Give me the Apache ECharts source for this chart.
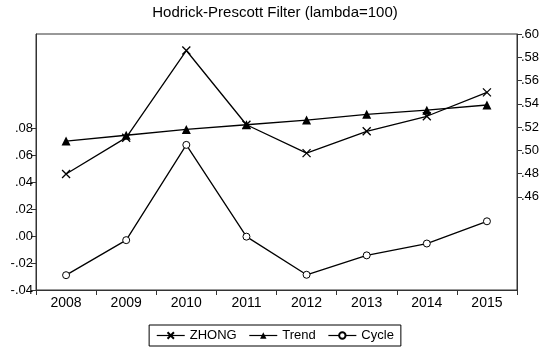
<!DOCTYPE html>
<html>
<head>
<meta charset="utf-8">
<script src="https://cdn.jsdelivr.net/npm/echarts@6/dist/echarts.min.js"></script>
<style>html,body{margin:0;padding:0;background:#fff}#c{width:550px;height:348px}</style>
</head>
<body>
<div id="c"></div>
<script>
var years = ['2008','2009','2010','2011','2012','2013','2014','2015'];
var zhong = [0.4797, 0.5109, 0.5858, 0.5220, 0.4976, 0.5164, 0.5293, 0.5498];
var trend = [0.5080, 0.5130, 0.5180, 0.5220, 0.5260, 0.5310, 0.5345, 0.5390];
var cycle = [-0.0290, -0.0030, 0.0677, -0.0004, -0.0287, -0.0143, -0.0055, 0.0110];
var leftTicks = [-0.04, -0.02, 0.00, 0.02, 0.04, 0.06, 0.08];
var rightTicks = [0.46, 0.48, 0.50, 0.52, 0.54, 0.56, 0.58, 0.60];
var titleText = 'Hodrick-Prescott Filter (lambda=100)';

function fmt(v){ return v.toFixed(2).replace('0.', '.'); }
var FONT = 'Liberation Sans, Arial, sans-serif';
var AX = '#333';

var chart = echarts.init(document.getElementById('c'), null, {renderer:'canvas'});
chart.setOption({
  animation: false,
  backgroundColor: '#fff',
  title: {text: titleText, left: 'center', top: 0,
    textStyle: {fontFamily: FONT, fontSize: 15, fontWeight: 'normal', color: '#000'}},
  grid: {left: 36, right: 33, top: 34, bottom: 58, show: true, borderColor: AX, borderWidth: 1},
  legend: {
    bottom: 2, left: 'center',
    data: ['ZHONG', 'Trend', 'Cycle'],
    itemWidth: 28, itemHeight: 8, itemGap: 12,
    borderColor: '#000', borderWidth: 1, padding: [4, 7],
    lineStyle: {width: 1.2},
    textStyle: {fontFamily: FONT, fontSize: 13, color: '#000'}
  },
  xAxis: {
    type: 'category', data: years, boundaryGap: true,
    axisLine: {onZero: false, lineStyle: {color: AX, width: 1}},
    axisTick: {show: true, interval: 0, length: 5, lineStyle: {color: AX}},
    axisLabel: {fontFamily: FONT, fontSize: 14, color: '#000', margin: 6},
    splitLine: {show: false}
  },
  yAxis: [
    {type: 'value', min: -0.04, max: 0.15, position: 'left',
     axisLine: {show: true, lineStyle: {color: AX}},
     axisTick: {show: true, length: 5, customValues: leftTicks, lineStyle: {color: AX}},
     axisLabel: {customValues: leftTicks, formatter: fmt, fontFamily: FONT, fontSize: 13, color: '#000', margin: 3},
     splitLine: {show: false}},
    {type: 'value', min: 0.38, max: 0.60, position: 'right',
     axisLine: {show: true, lineStyle: {color: AX}},
     axisTick: {show: true, length: 5, customValues: rightTicks, lineStyle: {color: AX}},
     axisLabel: {customValues: rightTicks, formatter: fmt, fontFamily: FONT, fontSize: 13, color: '#000', margin: 4},
     splitLine: {show: false}}
  ],
  series: [
    {name: 'ZHONG', type: 'line', yAxisIndex: 1, data: zhong,
     symbol: 'path://M0,0L10,10M10,0L0,10', symbolSize: 8, showAllSymbol: true,
     lineStyle: {color: '#000', width: 1.3},
     itemStyle: {color: 'rgba(0,0,0,0)', borderColor: '#000', borderWidth: 1.3}},
    {name: 'Trend', type: 'line', yAxisIndex: 1, data: trend,
     symbol: 'triangle', symbolSize: 9, showAllSymbol: true,
     lineStyle: {color: '#000', width: 1.3},
     itemStyle: {color: '#000', borderWidth: 0}},
    {name: 'Cycle', type: 'line', yAxisIndex: 0, data: cycle,
     symbol: 'circle', symbolSize: 7, showAllSymbol: true,
     lineStyle: {color: '#000', width: 1.3},
     itemStyle: {color: '#fff', borderColor: '#000', borderWidth: 1}}
  ]
});
</script>
</body>
</html>
